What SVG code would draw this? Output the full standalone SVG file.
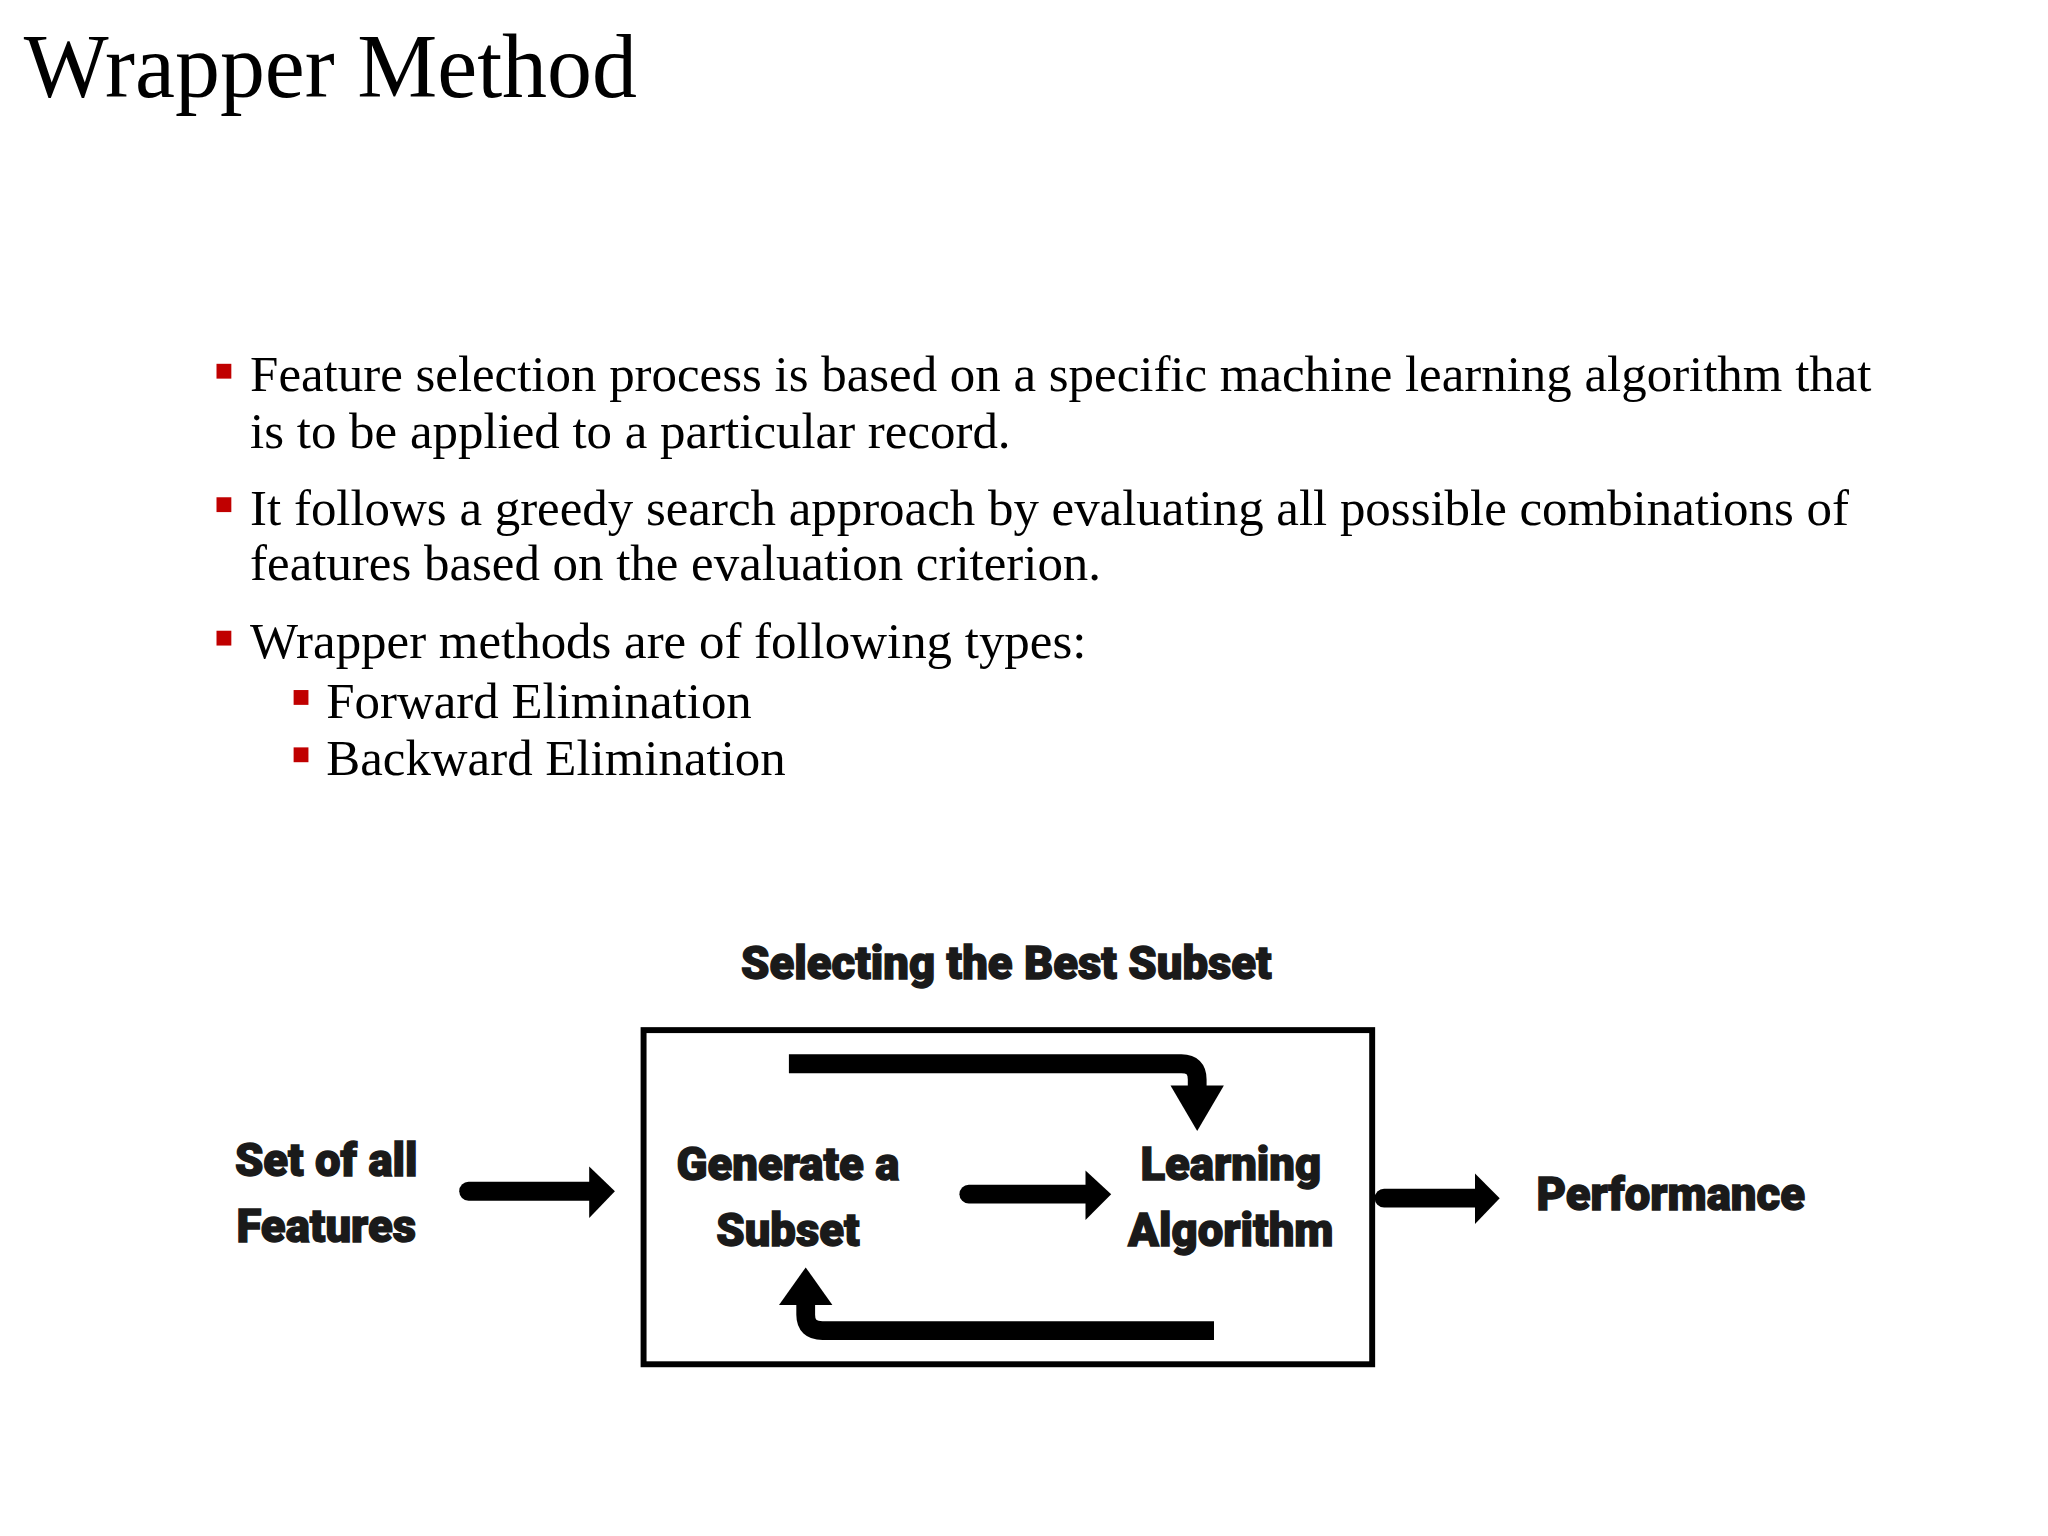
<svg xmlns="http://www.w3.org/2000/svg" width="2048" height="1536" viewBox="0 0 2048 1536">
<style>
.serif{font-family:"Liberation Serif","Times New Roman",serif;fill:#000}
.b{font-size:51.5px}
.lbl{font-family:"Roboto","Liberation Sans",Arial,sans-serif;font-weight:900;font-size:46px;fill:#1a1a1a;text-anchor:middle;stroke:#1a1a1a;stroke-width:1.4}
.sq{fill:#c00000}
.bar{stroke:#000;stroke-width:19;fill:none;stroke-linecap:round;stroke-linejoin:round}
</style>
<rect width="2048" height="1536" fill="#fff"/>
<g transform="scale(0.9886)">
<text class="serif" x="24" y="98" font-size="91">Wrapper Method</text>
<g id="bullets">
<rect class="sq" x="219" y="368" width="15" height="15"/>
<text class="serif b" x="253" y="396">Feature selection process is based on a specific machine learning algorithm that</text>
<text class="serif b" x="253" y="453">is to be applied to a particular record.</text>
<rect class="sq" x="219" y="503" width="15" height="15"/>
<text class="serif b" x="253" y="531">It follows a greedy search approach by evaluating all possible combinations of</text>
<text class="serif b" x="253" y="587">features based on the evaluation criterion.</text>
<rect class="sq" x="219" y="638" width="15" height="15"/>
<text class="serif b" x="253" y="666">Wrapper methods are of following types:</text>
<rect class="sq" x="297" y="698" width="15" height="15"/>
<text class="serif b" x="330" y="726">Forward Elimination</text>
<rect class="sq" x="297" y="756" width="15" height="15"/>
<text class="serif b" x="330" y="784">Backward Elimination</text>
</g>
<g id="title"><text class="lbl" x="1018" y="990">Selecting the Best Subset</text></g>
<g id="box"><rect x="651" y="1042" width="737" height="338" fill="none" stroke="#000" stroke-width="6"/></g>
<g id="input"><text class="lbl" x="330" y="1190">Set of all</text><text class="lbl" x="330" y="1256">Features</text></g>
<g id="generate"><text class="lbl" x="797" y="1194">Generate a</text><text class="lbl" x="797" y="1260">Subset</text></g>
<g id="learning"><text class="lbl" x="1245" y="1194">Learning</text><text class="lbl" x="1245" y="1260">Algorithm</text></g>
<g id="performance"><text class="lbl" x="1690" y="1224">Performance</text></g>
<g id="connectors">
<path class="bar" d="M798 1076 H1195 Q1211 1076 1211 1092 V1102" style="stroke-linecap:butt"/>
<polygon points="1184,1098 1238,1098 1211,1144"/>
<path class="bar" d="M1228 1346 H832 Q815 1346 815 1330 V1316" style="stroke-linecap:butt"/>
<polygon points="788,1320 842,1320 815,1282"/>
<line class="bar" x1="980" y1="1208" x2="1100" y2="1208"/>
<polygon points="1098,1184 1124,1208 1098,1234"/>
<line class="bar" x1="474" y1="1205" x2="598" y2="1205"/>
<polygon points="596,1180 622,1205 596,1232"/>
<line class="bar" x1="1400" y1="1212" x2="1494" y2="1212"/>
<polygon points="1492,1187 1517,1212 1492,1238"/>
</g>
</g>
</svg>
